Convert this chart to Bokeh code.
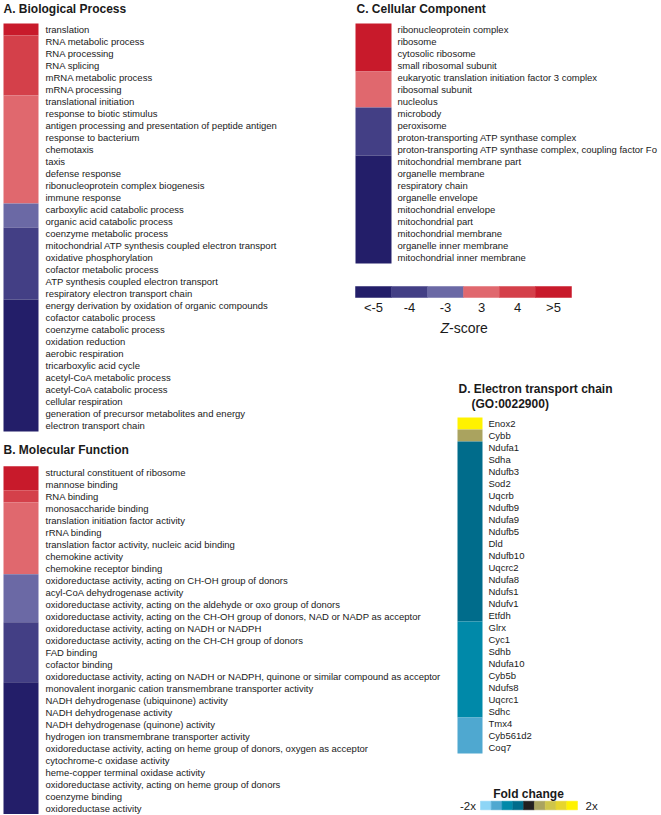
from bokeh.plotting import figure
from bokeh.models import ColumnDataSource, Range1d
from bokeh.core.properties import value
from bokeh.embed import file_html
from bokeh.resources import INLINE

# ---------------- data ----------------
z_bins = ["<-5", "-4", "-3", "3", "4", ">5"]
z_colors = ["#231e69", "#433f85", "#6b69a5", "#e0686e", "#d4404a", "#c81a2b"]

fc_levels = [-4, -3, -2, -1, 0, 1, 2, 3, 4]
fc_colors = ["#8dd5f6", "#4fa8d0", "#0089a9", "#006c8b", "#231f20",
             "#aaa35f", "#cfc54a", "#e6d52e", "#fff200"]

bp_terms = [
    "translation", "RNA metabolic process", "RNA processing", "RNA splicing",
    "mRNA metabolic process", "mRNA processing", "translational initiation",
    "response to biotic stimulus",
    "antigen processing and presentation of peptide antigen",
    "response to bacterium", "chemotaxis", "taxis", "defense response",
    "ribonucleoprotein complex biogenesis", "immune response",
    "carboxylic acid catabolic process", "organic acid catabolic process",
    "coenzyme metabolic process",
    "mitochondrial ATP synthesis coupled electron transport",
    "oxidative phosphorylation", "cofactor metabolic process",
    "ATP synthesis coupled electron transport",
    "respiratory electron transport chain",
    "energy derivation by oxidation of organic compounds",
    "cofactor catabolic process", "coenzyme catabolic process",
    "oxidation reduction", "aerobic respiration", "tricarboxylic acid cycle",
    "acetyl-CoA metabolic process", "acetyl-CoA catabolic process",
    "cellular respiration", "generation of precursor metabolites and energy",
    "electron transport chain",
]
bp_z = [">5", "4", "4", "4", "4", "4",
        "3", "3", "3", "3", "3", "3", "3", "3", "3",
        "-3", "-3",
        "-4", "-4", "-4", "-4", "-4", "-4",
        "<-5", "<-5", "<-5", "<-5", "<-5", "<-5", "<-5", "<-5", "<-5", "<-5", "<-5"]

mf_terms = [
    "structural constituent of ribosome", "mannose binding", "RNA binding",
    "monosaccharide binding", "translation initiation factor activity",
    "rRNA binding", "translation factor activity, nucleic acid binding",
    "chemokine activity", "chemokine receptor binding",
    "oxidoreductase activity, acting on CH-OH group of donors",
    "acyl-CoA dehydrogenase activity",
    "oxidoreductase activity, acting on the aldehyde or oxo group of donors",
    "oxidoreductase activity, acting on the CH-OH group of donors, NAD or NADP as acceptor",
    "oxidoreductase activity, acting on NADH or NADPH",
    "oxidoreductase activity, acting on the CH-CH group of donors",
    "FAD binding", "cofactor binding",
    "oxidoreductase activity, acting on NADH or NADPH, quinone or similar compound as acceptor",
    "monovalent inorganic cation transmembrane transporter activity",
    "NADH dehydrogenase (ubiquinone) activity", "NADH dehydrogenase activity",
    "NADH dehydrogenase (quinone) activity",
    "hydrogen ion transmembrane transporter activity",
    "oxidoreductase activity, acting on heme group of donors, oxygen as acceptor",
    "cytochrome-c oxidase activity", "heme-copper terminal oxidase activity",
    "oxidoreductase activity, acting on heme group of donors",
    "coenzyme binding", "oxidoreductase activity",
]
mf_z = [">5", ">5", "4",
        "3", "3", "3", "3", "3", "3",
        "-3", "-3", "-3", "-3",
        "-4", "-4", "-4", "-4", "-4",
        "<-5", "<-5", "<-5", "<-5", "<-5", "<-5", "<-5", "<-5", "<-5", "<-5", "<-5"]

cc_terms = [
    "ribonucleoprotein complex", "ribosome", "cytosolic ribosome",
    "small ribosomal subunit",
    "eukaryotic translation initiation factor 3 complex", "ribosomal subunit",
    "nucleolus", "microbody", "peroxisome",
    "proton-transporting ATP synthase complex",
    "proton-transporting ATP synthase complex, coupling factor Fo",
    "mitochondrial membrane part", "organelle membrane", "respiratory chain",
    "organelle envelope", "mitochondrial envelope", "mitochondrial part",
    "mitochondrial membrane", "organelle inner membrane",
    "mitochondrial inner membrane",
]
cc_z = [">5", ">5", ">5", ">5",
        "3", "3", "3",
        "-4", "-4", "-4", "-4",
        "<-5", "<-5", "<-5", "<-5", "<-5", "<-5", "<-5", "<-5", "<-5"]

etc_genes = [
    "Enox2", "Cybb", "Ndufa1", "Sdha", "Ndufb3", "Sod2", "Uqcrb", "Ndufb9",
    "Ndufa9", "Ndufb5", "Dld", "Ndufb10", "Uqcrc2", "Ndufa8", "Ndufs1",
    "Ndufv1", "Etfdh", "Glrx", "Cyc1", "Sdhb", "Ndufa10", "Cyb5b", "Ndufs8",
    "Uqcrc1", "Sdhc", "Tmx4", "Cyb561d2", "Coq7",
]
etc_fc = [4, 1,
          -1, -1, -1, -1, -1, -1, -1, -1, -1, -1, -1, -1, -1, -1, -1,
          -2, -2, -2, -2, -2, -2, -2, -2,
          -3, -3, -3]

# ---------------- figure ----------------
W, H = 660, 814
FONT = value("Liberation Sans")
ROW = 12.0
FS_ROW = "9.5px"
FS_TITLE = "12px"
TXT = "#1a1a1a"

p = figure(width=W, height=H, x_range=Range1d(0, W), y_range=Range1d(H, 0),
           output_backend="svg", toolbar_location=None, min_border=0,
           x_axis_location=None, y_axis_location=None, tools="")
p.grid.visible = False
p.outline_line_color = None
p.background_fill_color = "white"
p.border_fill_color = "white"

z_color_of = dict(zip(z_bins, z_colors))
fc_color_of = dict(zip(fc_levels, fc_colors))


def heat(labels, colors, x0, x1, xt, top):
    n = len(labels)
    # merge consecutive rows of the same colour into one block
    bt, bb, bc = [], [], []
    start = 0
    for i in range(1, n + 1):
        if i == n or colors[i] != colors[start]:
            bt.append(top + ROW * start)
            bb.append(top + ROW * i)
            bc.append(colors[start])
            start = i
    blocks = ColumnDataSource(dict(top=bt, bottom=bb, color=bc))
    p.quad(left=x0, right=x1, top="top", bottom="bottom", source=blocks,
           fill_color="color", line_color=None)
    src = ColumnDataSource(dict(tx=[xt] * n, ty=[top + ROW * i + ROW / 2 for i in range(n)],
                                label=labels))
    p.text(x="tx", y="ty", text="label", source=src, text_font=FONT,
           text_font_size=value(FS_ROW), text_baseline="middle", text_align="left",
           text_color=TXT)


heat(bp_terms, [z_color_of[z] for z in bp_z], 3, 38, 45, 23)
heat(mf_terms, [z_color_of[z] for z in mf_z], 3, 38, 45, 465.7)
heat(cc_terms, [z_color_of[z] for z in cc_z], 355, 391, 397, 23)
heat(etc_genes, [fc_color_of[v] for v in etc_fc], 457, 482, 488, 417)

# titles
titles = ColumnDataSource(dict(
    x=[3, 3, 356, 458, 471],
    y=[8.5, 449.5, 8.5, 388.5, 403],
    text=["A. Biological Process", "B. Molecular Function", "C. Cellular Component",
          "D. Electron transport chain", "(GO:0022900)"]))
p.text(x="x", y="y", text="text", source=titles, text_font=FONT,
       text_font_size=value(FS_TITLE), text_font_style="bold", text_baseline="middle",
       text_align="left", text_color=TXT)

# Z-score legend
nz = len(z_bins)
zw = (571 - 355) / nz
zsrc = ColumnDataSource(dict(left=[355 + zw * i for i in range(nz)],
                             right=[355 + zw * (i + 1) for i in range(nz)],
                             color=z_colors,
                             tx=[355 + zw * (i + 0.5) for i in range(nz)],
                             label=z_bins))
p.quad(left="left", right="right", top=286, bottom=297, source=zsrc,
       fill_color="color", line_color="color", line_width=0.5)
p.text(x="tx", y=306.5, text="label", source=zsrc, text_font=FONT,
       text_font_size=value("13px"), text_baseline="middle", text_align="center",
       text_color=TXT)
p.text(x=[440], y=[327], text=["Z"], text_font=FONT, text_font_size=value("14px"),
       text_font_style="italic", text_baseline="middle", text_align="left",
       text_color=TXT)
p.text(x=[448.5], y=[327], text=["-score"], text_font=FONT, text_font_size=value("14px"),
       text_baseline="middle", text_align="left", text_color=TXT)

# Fold change legend
nf = len(fc_levels)
fw = (577 - 480) / nf
fsrc = ColumnDataSource(dict(left=[480 + fw * i for i in range(nf)],
                             right=[480 + fw * (i + 1) for i in range(nf)],
                             color=fc_colors))
p.quad(left="left", right="right", top=800.7, bottom=809.3, source=fsrc,
       fill_color="color", line_color="color", line_width=0.5)
p.text(x=[528], y=[793], text=["Fold change"], text_font=FONT,
       text_font_size=value("12px"), text_font_style="bold", text_baseline="middle",
       text_align="center", text_color=TXT)
p.text(x=[475.5], y=[805.5], text=["-2x"], text_font=FONT, text_font_size=value("11.5px"),
       text_baseline="middle", text_align="right", text_color=TXT)
p.text(x=[585], y=[805.5], text=["2x"], text_font=FONT, text_font_size=value("11.5px"),
       text_baseline="middle", text_align="left", text_color=TXT)

open("out.html", "w").write(file_html(p, INLINE))
